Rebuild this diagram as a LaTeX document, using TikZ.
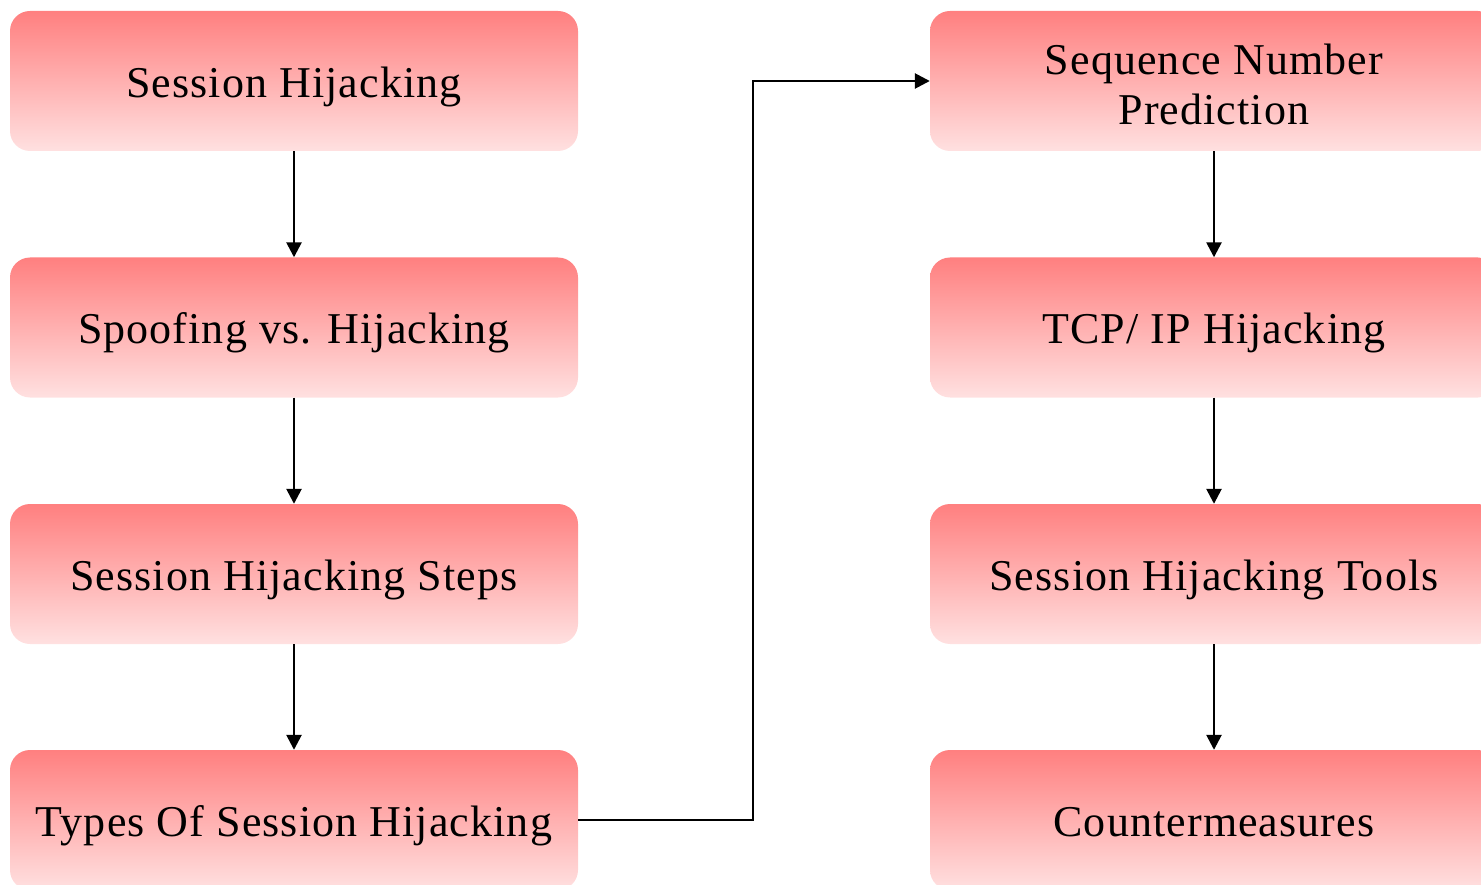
\documentclass[tikz,border=0pt]{standalone}
\usepackage{fontspec}
\setmainfont[LetterSpace=2.5]{Liberation Serif}
\usetikzlibrary{arrows.meta}
\tikzset{
  topic/.style={rectangle, rounded corners=20pt, minimum width=568pt, minimum height=140pt,
    top color=red!50, bottom color=red!12, draw=none, align=center,
    font=\fontsize{44}{50}\selectfont, inner sep=0pt},
  oneline/.style={text height=33pt, text depth=0pt},
  link/.style={line width=2.6pt, -{Triangle[length=15pt,width=15pt]}}
}
\begin{document}
\begin{tikzpicture}[x=1pt,y=-1pt]
\useasboundingbox (0,0) rectangle (1481,885);
\clip (0,0) rectangle (1481,885);
% left column
\node[topic,oneline] (a1) at (294,81)  {Session Hijacking};
\node[topic,oneline] (a2) at (294,327.5) {Spoofing vs. Hijacking};
\node[topic,oneline] (a3) at (294,574) {Session Hijacking Steps};
\node[topic,oneline] (a4) at (294,820) {Types Of Session Hijacking};
% right column
\node[topic] (b1) at (1214,81)  {};
\node[font=\fontsize{44}{50}\selectfont, align=center, inner sep=0pt] (b1t) at (1214,84) {Sequence Number\\Prediction};
\node[topic,oneline] (b2) at (1214,327.5) {TCP/ IP Hijacking};
\node[topic,oneline] (b3) at (1214,574) {Session Hijacking Tools};
\node[topic,oneline] (b4) at (1214,820) {Countermeasures};
% connectors
\draw[link] (a1) -- (a2);
\draw[link] (a2) -- (a3);
\draw[link] (a3) -- (a4);
\coordinate (bend) at (753,820);
\draw[link] (a4.east) -- (bend) |- (b1.west);
\draw[link] (b1) -- (b2);
\draw[link] (b2) -- (b3);
\draw[link] (b3) -- (b4);
\end{tikzpicture}
\end{document}
